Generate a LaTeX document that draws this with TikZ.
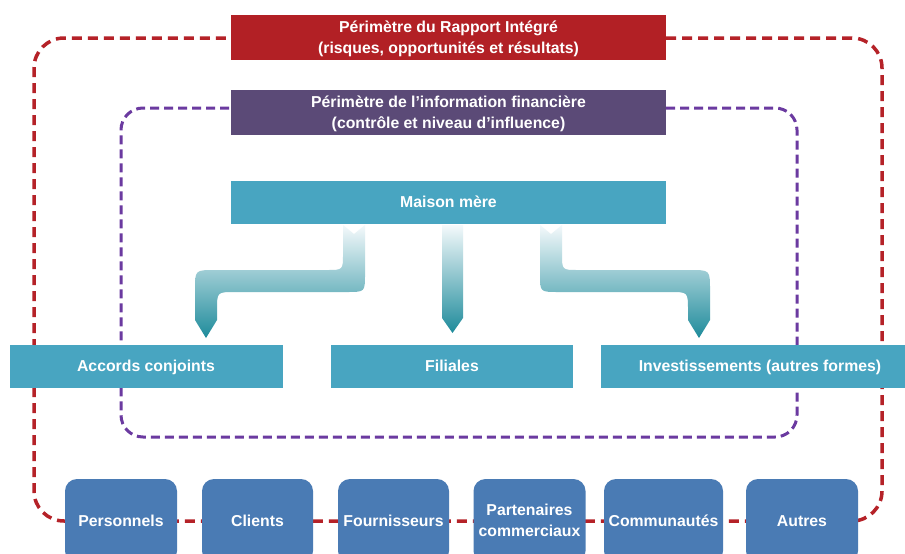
\documentclass[tikz,border=0pt]{standalone}
\usepackage{fontspec}
\setmainfont{Liberation Sans}
\definecolor{rtitle}{HTML}{B22025}
\definecolor{rdash}{HTML}{B52228}
\definecolor{ptitle}{HTML}{5B4A77}
\definecolor{pdash}{HTML}{6B3AA0}
\definecolor{teal}{HTML}{48A5C1}
\definecolor{sblue}{HTML}{4A7BB4}
\definecolor{arrowtop}{HTML}{F4F9FB}
\definecolor{arrowbot}{HTML}{1E8B9B}
\begin{document}
\begin{tikzpicture}[x=1pt,y=-1pt,
  lbl/.style={text=white,font=\fontsize{15.8}{21}\selectfont\bfseries,align=center,inner sep=0pt,text height=10.6pt,text depth=0pt},
  twolines/.style={text height=31.6pt,text depth=0pt},
  titlebox/.style={lbl,twolines,minimum width=435,minimum height=45},
  tealbox/.style={lbl,fill=teal,minimum height=43},
  stakebox/.style={lbl,fill=sblue,rounded corners=12pt,minimum width=112,minimum height=84},
  reddash/.style={draw=rdash,line width=3.5pt,dash pattern=on 10pt off 6pt,rounded corners=30pt},
  purpdash/.style={draw=pdash,line width=3pt,dash pattern=on 9pt off 5pt,rounded corners=22pt},
  arrowshade/.style={top color=arrowtop,bottom color=arrowbot,draw=none}]
\clip (0,0) rectangle (905,554);
\useasboundingbox (0,0) rectangle (905,554);
\fill[white] (0,0) rectangle (905,554);

% title boxes
\node[titlebox,fill=rtitle] (rt) at (448.5,37.5) {Périmètre du Rapport Intégré\\(risques, opportunités et résultats)};
\node[titlebox,fill=ptitle] (pt) at (448.5,112.5) {Périmètre de l’information financière\\(contrôle et niveau d’influence)};
\coordinate (rtop) at (0,38);
\coordinate (ptop) at (0,108);

% dashed frames
\draw[reddash] (rt.east |- rtop) -- (882,38) -- (882,521) -- (34,521) -- (34,38) -- (rt.west |- rtop);
\draw[purpdash] (pt.east |- ptop) -- (797,108) -- (797,437) -- (121,437) -- (121,108) -- (pt.west |- ptop);

% maison mere
\node[tealbox,minimum width=435] (mm) at (448.5,202.5) {Maison mère};

% arrows
\shade[arrowshade] (343,225) -- (354,234) -- (365,225) -- (365,274)
  .. controls (365,292) and (365,292) .. (347,292) -- (235,292)
  .. controls (217,292) and (217,292) .. (217,310) -- (217,320) -- (206,338) -- (195,320) -- (195,290)
  .. controls (195,270) and (195,270) .. (215,270) -- (327,270)
  .. controls (343,270) and (343,270) .. (343,254) -- cycle;
\shade[arrowshade] (442,225) -- (463,225) -- (463,318) -- (452.5,333) -- (442,318) -- cycle;
\shade[arrowshade] (540,225) -- (551,234) -- (562,225) -- (562,254)
  .. controls (562,270) and (562,270) .. (578,270) -- (690,270)
  .. controls (710,270) and (710,270) .. (710,290) -- (710,320) -- (699,338) -- (688,320) -- (688,310)
  .. controls (688,292) and (688,292) .. (670,292) -- (558,292)
  .. controls (540,292) and (540,292) .. (540,274) -- cycle;

% second row
\node[tealbox,minimum width=273] (ac) at (146,366.5) {Accords conjoints};
\node[tealbox,minimum width=242] (fi) at (452,366.5) {Filiales};
\node[tealbox,minimum width=318] (inv) at (760,366.5) {Investissements (autres formes)};

% stakeholders
\node[stakebox] (p1) at (121,521) {Personnels};
\node[stakebox,minimum width=111] (p2) at (257.5,521) {Clients};
\node[stakebox,minimum width=111] (p3) at (393.5,521) {Fournisseurs};
\node[stakebox,minimum width=112,twolines] (p4) at (529.5,521) {Partenaires\\commerciaux};
\node[stakebox,minimum width=119] (p5) at (663.5,521) {Communautés};
\node[stakebox] (p6) at (802,521) {Autres};
\end{tikzpicture}
\end{document}
